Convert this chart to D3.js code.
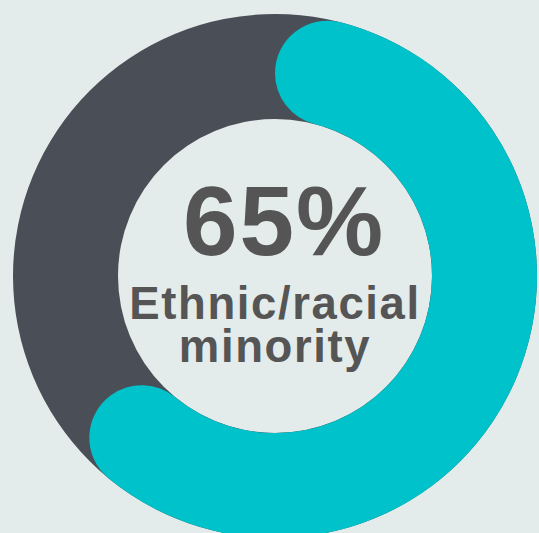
<!DOCTYPE html>
<html>
<head>
<meta charset="utf-8">
<script src="https://cdn.jsdelivr.net/npm/d3@7"></script>
<style>
  html, body { margin: 0; padding: 0; background: #e3ecea; overflow: hidden; }
  svg { display: block; }
</style>
</head>
<body>
<div id="chart"></div>
<script>
// data
const shares = [65];
const shareLabels = ["65%"];
const categoryLines = ["Ethnic/racial", "minority"];

const width = 539, height = 533;
const cx = 275, cy = 276;
const outerR = 262, innerR = 157;

const svg = d3.select("#chart")
  .append("svg")
    .attr("width", width)
    .attr("height", height);

const g = svg.append("g")
  .attr("transform", `translate(${cx}, ${cy})`);

const angle = d3.scaleLinear()
  .domain([0, 100])
  .range([0, 2 * Math.PI]);

// grey track
const track = d3.arc()
  .innerRadius(innerR)
  .outerRadius(outerR)
  .startAngle(0)
  .endAngle(2 * Math.PI);

g.append("path")
  .attr("d", track())
  .attr("fill", "#4a4f57");

// teal value arc with round ends
const valueArc = d3.arc()
  .innerRadius(innerR)
  .outerRadius(outerR)
  .cornerRadius((outerR - innerR) / 2);

g.selectAll("path.value")
  .data(shares)
  .join("path")
  .attr("class", "value")
  .attr("d", d => valueArc({ startAngle: angle(0), endAngle: angle(d) }))
  .attr("fill", "#00c2cb");

// center text
g.append("text")
  .attr("x", 9)
  .attr("y", -21)
  .attr("text-anchor", "middle")
  .style("font-family", "'Liberation Sans', Arial, sans-serif")
  .style("font-weight", "bold")
  .style("font-size", "98px")
  .style("letter-spacing", "2px")
  .style("fill", "#555555")
  .text(shareLabels[0]);

// two-line category label as one text block
g.append("text")
  .attr("text-anchor", "middle")
  .style("font-family", "'Liberation Sans', Arial, sans-serif")
  .style("font-weight", "bold")
  .style("font-size", "45.5px")
  .style("letter-spacing", "1.6px")
  .style("fill", "#555555")
  .selectAll("tspan")
  .data(categoryLines)
  .join("tspan")
    .attr("x", 0)
    .attr("y", (d, i) => 43 + i * 43)
    .text(d => d);
</script>
</body>
</html>
